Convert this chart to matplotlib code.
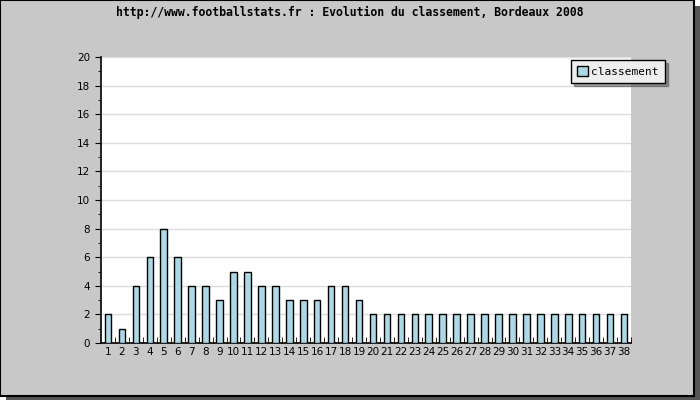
import matplotlib.pyplot as plt
from matplotlib.patches import Rectangle
import numpy as np

journees = list(range(1, 39))
classement = [2, 1, 4, 6, 8, 6, 4, 4, 3, 5, 5, 4, 4, 3, 3, 3, 4, 4, 3,
              2, 2, 2, 2, 2, 2, 2, 2, 2, 2, 2, 2, 2, 2, 2, 2, 2, 2, 2]
y_ticks = list(range(0, 21, 2))

fig = plt.figure(figsize=(7, 4), dpi=100)
fig.patch.set_facecolor('white')

# frame with drop shadow
fig.add_artist(Rectangle((6 / 700, 0), 694 / 700, 394 / 400, transform=fig.transFigure,
                         facecolor='#555555', edgecolor='none', zorder=-3))
fig.add_artist(Rectangle((0, 4 / 400), 694 / 700, 396 / 400, transform=fig.transFigure,
                         facecolor='#c8c8c8', edgecolor='black', linewidth=1.5, zorder=-2))

fig.text(0.50, 1 - 12 / 400, 'http://www.footballstats.fr : Evolution du classement, Bordeaux 2008',
         ha='center', va='center', fontsize=8.3, fontweight='bold', family='DejaVu Sans Mono')

ax = fig.add_axes([101 / 700, 57 / 400, 530 / 700, 286 / 400])
ax.set_facecolor('white')
x = np.arange(len(journees))
ax.bar(x, classement, width=0.47, color='#add8e6', edgecolor='black', linewidth=1,
       label='classement', zorder=3)

ax.set_xlim(-0.5, len(journees) - 0.5)
ax.set_ylim(0, 20)
ax.set_yticks(y_ticks)
ax.set_yticks(range(0, 21), minor=True)
ax.yaxis.grid(True, color='#dddddd', linewidth=1, zorder=0)
ax.tick_params(axis='y', which='major', direction='out', length=4, labelsize=7.5, pad=4)
ax.tick_params(axis='y', which='minor', direction='out', length=2.5)

ax.set_xticks(x)
ax.set_xticklabels([str(j) for j in journees])
ax.set_xticks(x + 0.5, minor=True)
ax.tick_params(axis='x', which='major', length=0, labelsize=7.5, pad=3)
ax.tick_params(axis='x', which='minor', direction='in', length=4)

for s in ['top', 'right']:
    ax.spines[s].set_visible(False)
ax.spines['left'].set_linewidth(1.2)
ax.spines['bottom'].set_linewidth(1.2)

leg = fig.legend(loc='upper right', bbox_to_anchor=(665 / 700, 1 - 60 / 400), fontsize=8,
                 frameon=True, fancybox=False, shadow=True, handlelength=1.0, handleheight=1.0,
                 handletextpad=0.3, borderpad=0.55, borderaxespad=0)
leg.get_frame().set_facecolor('#eeeeee')
leg.get_frame().set_edgecolor('black')
leg.get_frame().set_alpha(1)
for t in leg.get_texts():
    t.set_family('DejaVu Sans Mono')

plt.savefig('out.png', dpi=100)
plt.close()
